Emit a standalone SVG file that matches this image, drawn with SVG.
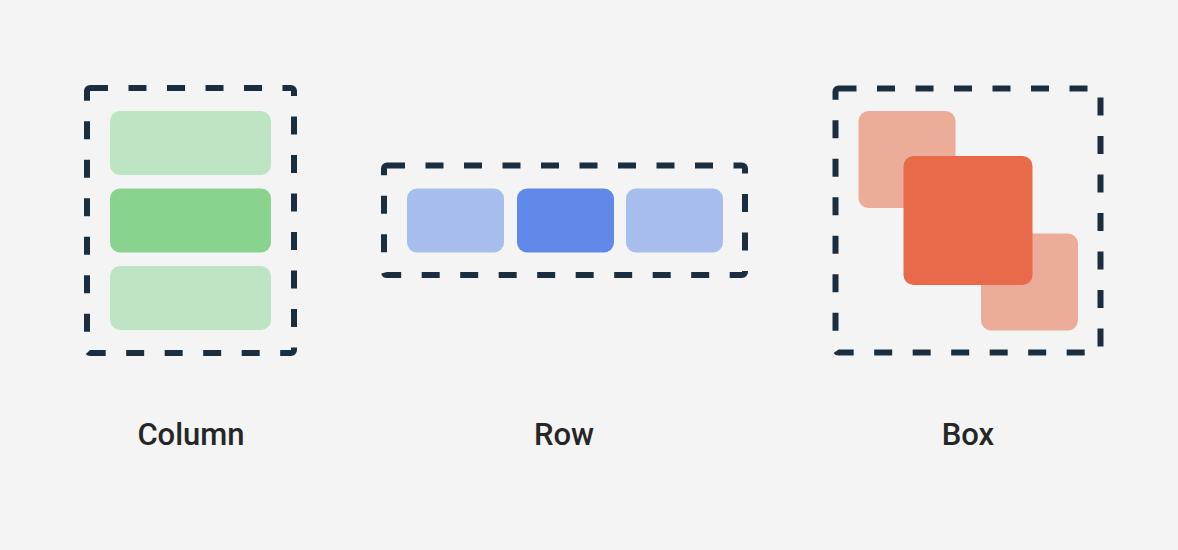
<svg xmlns="http://www.w3.org/2000/svg" width="1178" height="550" viewBox="0 0 1178 550">
<style>
.frame{fill:none;stroke:#1b2e40;stroke-width:6;stroke-dasharray:18 20.5}
.lbl{font-family:Roboto,"Liberation Sans",sans-serif;font-weight:500;font-size:31px;fill:#262626;text-anchor:middle}
</style>
<rect width="1178" height="550" fill="#f4f4f4"/>
<g id="column">
<rect x="110" y="111" width="161" height="64" rx="10" fill="#bde5c3"/>
<rect x="110" y="188.5" width="161" height="64" rx="10" fill="#8ad38f"/>
<rect x="110" y="266" width="161" height="64" rx="10" fill="#bde5c3"/>
<rect class="frame" x="87" y="88" width="207" height="265" rx="3"/>
<text class="lbl" x="191" y="445">Column</text>
</g>
<g id="row">
<rect x="407" y="188.5" width="97" height="64" rx="10" fill="#a7bdee"/>
<rect x="517" y="188.5" width="97" height="64" rx="10" fill="#6088e8"/>
<rect x="626" y="188.5" width="97" height="64" rx="10" fill="#a7bdee"/>
<rect class="frame" x="384" y="165.5" width="361" height="109.5" rx="3"/>
<text class="lbl" x="564" y="445">Row</text>
</g>
<g id="box">
<rect x="858.5" y="111" width="97" height="97" rx="10" fill="#ecac9a"/>
<rect x="981" y="233.5" width="97" height="97" rx="10" fill="#ecac9a"/>
<rect x="903.5" y="156" width="129" height="129" rx="10" fill="#e86a4b"/>
<rect class="frame" x="835.5" y="88.5" width="265" height="264" rx="3"/>
<text class="lbl" x="968" y="445">Box</text>
</g>
<g id="connectors"/>
</svg>
